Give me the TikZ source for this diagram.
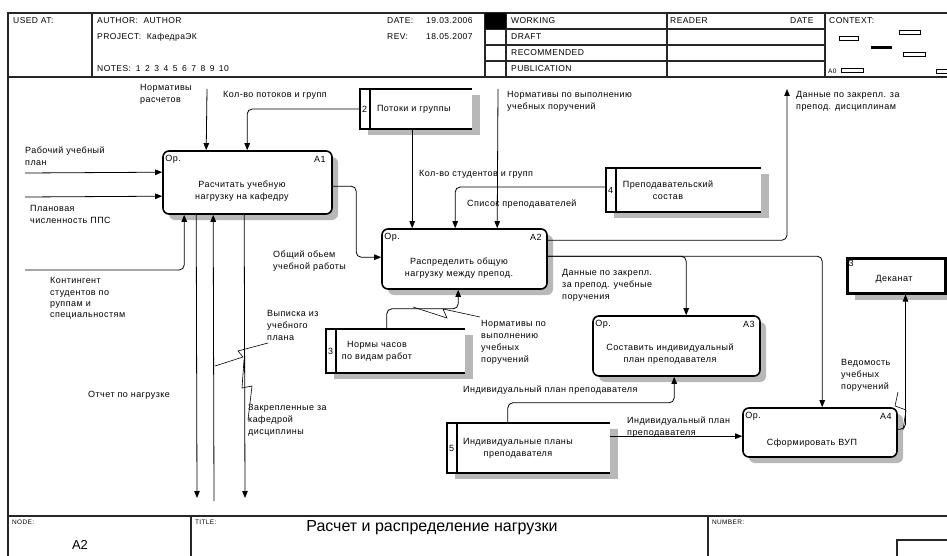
\documentclass[tikz,border=0pt]{standalone}
\usepackage{fontspec}
\setmainfont{Liberation Sans}
\newfontfamily\labfont{Liberation Sans}[LetterSpace=5]
\usetikzlibrary{arrows.meta,shadows}

\begin{document}
\begin{tikzpicture}[x=1pt,y=-1pt,
  font=\labfont\fontsize{9}{12}\selectfont,
  frameline/.style={line width=1.1pt,draw=black!85},
  conn/.style={line width=0.8pt},
  squig/.style={line width=0.6pt},
  arr/.style={conn,-{Triangle[length=7pt,width=5.5pt]}},
  rc/.style={rounded corners=5pt},
  boxshadow/.style={drop shadow={shadow xshift=6pt,shadow yshift=-6pt,fill=black!28,opacity=1}},
  act/.style={draw,line width=1.6pt,rounded corners=6pt,fill=white,inner sep=0pt,boxshadow},
  store/.style={fill=white,inner sep=0pt,drop shadow={shadow xshift=8pt,shadow yshift=-6pt,fill=black!28,opacity=1}},
  storeline/.style={line width=1.6pt},
  lbl/.style={anchor=north west,inner sep=0pt,align=left},
  ctr/.style={inner sep=0pt,align=center},
  lft/.style={anchor=west,inner sep=0pt},
  rgt/.style={anchor=east,inner sep=0pt},
  hd/.style={anchor=west,inner sep=0pt,font=\labfont\fontsize{8.5}{10}\selectfont},
  small/.style={inner sep=0pt,font=\labfont\fontsize{6.5}{8}\selectfont},
  ctx/.style={line width=1pt},
]
\useasboundingbox (0,0) rectangle (947,556);

% ---------- form frame ----------
\draw[frameline] (8,556) -- (8,13) -- (947,13);
\draw[frameline] (8,77) -- (947,77);
\draw[frameline] (8,516) -- (947,516);
\foreach \x in {92,485,506,667,825} \draw[frameline] (\x,13) -- (\x,77);
\foreach \y in {29,45,61} \draw[frameline] (485,\y) -- (825,\y);
\fill (485,13) rectangle (506,29);
\draw[frameline] (191,516) -- (191,556);
\draw[frameline] (708,516) -- (708,556);
\draw[frameline] (897,556) |- (947,540);

% ---------- header ----------
\node[hd] (hUsed) at (13,21) {USED AT:};
\node[hd] (hAuth) at (97,21) {AUTHOR:\ \ AUTHOR};
\node[hd] (hProj) at (97,37) {PROJECT:\ \ КафедраЭК};
\node[hd] (hNotes) at (97,69) {NOTES:\hspace{5pt}1\hspace{4.5pt}2\hspace{4.5pt}3\hspace{4.5pt}4\hspace{4.5pt}5\hspace{4.5pt}6\hspace{4.5pt}7\hspace{4.5pt}8\hspace{4.5pt}9\hspace{4.5pt}10};
\node[hd] (hDate) at (387,21) {DATE:};
\node[hd] (hDateV) at (426,21) {19.03.2006};
\node[hd] (hRev) at (387,37) {REV:};
\node[hd] (hRevV) at (426,37) {18.05.2007};
\node[hd] (hW) at (511,21) {WORKING};
\node[hd] (hD) at (511,37) {DRAFT};
\node[hd] (hR) at (511,53) {RECOMMENDED};
\node[hd] (hP) at (511,69) {PUBLICATION};
\node[hd] (hReader) at (670,21) {READER};
\node[hd] (hRDate) at (790,21) {DATE};
\node[hd] (hCtx) at (829,21) {CONTEXT:};
\node[small,anchor=west] (hA0) at (828,71) {A0};
\draw[ctx] (839,37) rectangle (858,41);
\draw[ctx] (899,31) rectangle (920,35);
\fill (871,46) rectangle (892,49);
\draw[ctx] (903,53) rectangle (925,57);
\draw[ctx] (841,69) rectangle (863,73);
\draw[ctx] (936,70) rectangle (950,74);

% ---------- footer ----------
\node[small,anchor=west] (fNode) at (12,522) {NODE:};
\node[inner sep=0pt,font=\fontsize{13}{15}\selectfont] (fA2) at (80,545) {A2};
\node[small,anchor=west] (fTitle) at (195,522) {TITLE:};
\node[inner sep=0pt,font=\fontsize{16}{18}\selectfont] (fTitleTxt) at (432,528) {Расчет и распределение нагрузки};
\node[small,anchor=west] (fNum) at (712,522) {NUMBER:};

% ---------- activities ----------
\node[act,minimum width=169pt,minimum height=63pt] (A1) at (247.5,182.5) {};
\node[act,minimum width=165pt,minimum height=60pt] (A2) at (464.5,259) {};
\node[act,minimum width=167pt,minimum height=60pt] (A3) at (676.5,346) {};
\node[act,minimum width=154pt,minimum height=49pt] (A4) at (820,432.5) {};

\node[ctr] (A1t) at (242,191) {Расчитать учебную\\нагрузку на кафедру};
\node[ctr] (A2t) at (459,268.5) {Распределить общую\\нагрузку между препод.};
\node[ctr] (A3t) at (670,354) {Составить индивидуальный\\план преподавателя};
\node[ctr] (A4t) at (812,443) {Сформировать ВУП};

\node[lft] (A1o) at ([xshift=3pt,yshift=-9pt]A1.north west) {Ор.};
\node[rgt] (A1n) at ([xshift=-7pt,yshift=-9pt]A1.north east) {A1};
\node[lft] (A2o) at ([xshift=3pt,yshift=-9pt]A2.north west) {Ор.};
\node[rgt] (A2n) at ([xshift=-6pt,yshift=-9pt]A2.north east) {A2};
\node[lft] (A3o) at ([xshift=3pt,yshift=-9pt]A3.north west) {Ор.};
\node[rgt] (A3n) at ([xshift=-6pt,yshift=-9pt]A3.north east) {A3};
\node[lft] (A4o) at ([xshift=3pt,yshift=-9pt]A4.north west) {Ор.};
\node[rgt] (A4n) at ([xshift=-6pt,yshift=-9pt]A4.north east) {A4};

% ---------- data stores ----------
\node[store,minimum width=112pt,minimum height=40pt] (S2) at (416,109) {};
\node[store,minimum width=155pt,minimum height=44pt] (S4) at (683.5,190) {};
\node[store,minimum width=139pt,minimum height=44pt] (S3) at (395.5,351) {};
\node[store,minimum width=163pt,minimum height=50pt] (S5) at (528.5,448) {};
\foreach \s in {S2,S4,S3,S5}{
  \draw[storeline] (\s.north east) -- (\s.north west) -- (\s.south west) -- (\s.south east);
  \draw[storeline] ([xshift=10pt]\s.north west) -- ([xshift=10pt]\s.south west);
}
\node[lft] (S2n) at ([xshift=2pt]S2.west) {2};
\node[lft] (S2t) at ([xshift=17pt]S2.west) {Потоки и группы};
\node[lft] (S4n) at ([xshift=2pt]S4.west) {4};
\node[ctr] (S4t) at (668,190) {Преподавательский\\состав};
\node[lft] (S3n) at ([xshift=2pt]S3.west) {3};
\node[ctr] (S3t) at (377,351.5) {Нормы часов\\по видам работ};
\node[lft] (S5n) at ([xshift=2pt]S5.west) {5};
\node[ctr] (S5t) at (518,448.5) {Индивидуальные планы\\преподавателя};

% ---------- external entity ----------
\node[draw,line width=3pt,fill=white,inner sep=0pt,minimum width=98pt,minimum height=35pt,
      drop shadow={shadow xshift=8pt,shadow yshift=-7pt,fill=black!28,opacity=1}] (Dek) at (896,275.5) {};
\node[lft] (Dekn) at ([xshift=3pt,yshift=-7pt]Dek.north west) {3};
\node[ctr] (Dekt) at (894,279) {Деканат};

% ---------- arrow ends on the boxes ----------
\coordinate (a1c1) at ([xshift=44pt]A1.north west);
\coordinate (a1c2) at ([xshift=85pt]A1.north west);
\coordinate (a1i1) at ([yshift=-22pt]A1.north west);
\coordinate (a1i2) at ([yshift=-46pt]A1.north west);
\coordinate (a1m1) at ([xshift=22pt]A1.south west);
\coordinate (a1b1) at ([xshift=34pt]A1.south west);
\coordinate (a1b2) at ([xshift=51pt]A1.south west);
\coordinate (a1b3) at ([xshift=82pt]A1.south west);
\coordinate (a1o)  at ([yshift=-36pt]A1.north east);
\coordinate (a2i)  at ([yshift=-29pt]A2.north west);
\coordinate (a2c1) at ([xshift=31pt]A2.north west);
\coordinate (a2c2) at ([xshift=74pt]A2.north west);
\coordinate (a2c3) at ([xshift=116pt]A2.north west);
\coordinate (a2o1) at ([yshift=-12pt]A2.north east);
\coordinate (a2o2) at ([yshift=-28pt]A2.north east);
\coordinate (a2m)  at ([xshift=77pt]A2.south west);
\coordinate (a3c)  at ([xshift=94pt]A3.north west);
\coordinate (a3m)  at ([xshift=82pt]A3.south west);
\coordinate (a4c)  at ([xshift=80pt]A4.north west);
\coordinate (a4i)  at ([yshift=-29pt]A4.north west);
\coordinate (a4o)  at ([yshift=-22pt]A4.north east);
\coordinate (dk)   at ([xshift=60pt]Dek.south west);
\coordinate (s3up) at ([xshift=61pt]S3.north west);
\coordinate (s5up) at ([xshift=61pt]S5.north west);

% free ends at the diagram border
\coordinate (f1) at (207,89);
\coordinate (f2) at (25,173);
\coordinate (f3) at (25,197);
\coordinate (f4) at (25,270);
\coordinate (f5) at (498,89);
\coordinate (f6) at (787,89);
\coordinate (b1) at (197,498);
\coordinate (b2) at (214,501);
\coordinate (b3) at (245,498);

% ---------- connectors ----------
\draw[arr] (f1) -- (a1c1);
\draw[arr,rc] (S2.west) -| (a1c2);
\draw[arr] (f2) -- (a1i1);
\draw[arr] (f3) -- (a1i2);
\draw[arr,rc] (f4) -| (a1m1);
\draw[arr] (a1b1) -- (b1);
\draw[arr] (b2) -- (a1b2);
\draw[arr] (a1b3) -- (b3);
\draw[arr,rc] (a1o) -| ([xshift=-25pt]a2i) -- (a2i);
\draw[arr] (S2.south -| a2c1) -- (a2c1);
\draw[arr,rc] ([yshift=3pt]S4.west) -| (a2c2);
\draw[arr] (f5) -- (a2c3);
\draw[arr,rc] (a2o1) -| (f6);
\draw[arr,rc] (a2o2) -| (a3c);
\draw[arr,rc] (a2o2) -| (a4c);
\draw[arr,rc] (s3up) |- ([yshift=-19pt]a2m) -- (a2m);
\draw[arr,rc] (s5up) |- ([yshift=-26pt]a3m) -- (a3m);
\draw[arr] (a4i -| S5.east) -- (a4i);
\draw[arr,rc] (a4o) -| (dk);

% label leaders
\draw[squig] (268,343) -- (238,351) -- (243,357) -- (215,366);
\draw[squig] (244,360) -- (242,388) -- (252,386) -- (248,420);
\draw[squig] (413,307) -- (447,318) -- (443,309) -- (480,317);
\draw[squig] (898,392) -- (895,406) -- (906,410) -- (903,430);

% ---------- arrow labels ----------
\node[lbl] (l1) at (140,84.5) {Нормативы\\расчетов};
\node[lbl] (l2) at (223,91.5) {Кол-во потоков и групп};
\node[lbl] (l3) at (25,146.5) {Рабочий учебный\\план};
\node[lbl] (l4) at (30,205.5) {Плановая\\численность ППС};
\node[lbl,font=\labfont\fontsize{9}{11.2}\selectfont] (l5) at (50,277.5) {Контингент\\студентов по\\руппам и\\специальностям};
\node[lbl] (l6) at (88,391.5) {Отчет по нагрузке};
\node[lbl] (l7) at (267,310.5) {Выписка из\\учебного\\плана};
\node[lbl] (l8) at (248,404.5) {Закрепленные за\\кафедрой\\дисциплины};
\node[lbl] (l9) at (273,250.5) {Общий обьем\\учебной работы};
\node[lbl] (l10) at (419,170.5) {Кол-во студентов и групп};
\node[lbl] (l11) at (507,91.5) {Нормативы по выполнению\\учебных поручений};
\node[lbl] (l12) at (467,199.5) {Список преподавателей};
\node[lbl] (l13) at (796,91.5) {Данные по закрепл. за\\препод. дисциплинам};
\node[lbl] (l14) at (562,269.5) {Данные по закрепл.\\за препод. учебные\\поручения};
\node[lbl] (l15) at (481,320.5) {Нормативы по\\выполнению\\учебных\\поручений};
\node[lbl] (l16) at (463,385.5) {Индивидуальный план преподавателя};
\node[lbl] (l17) at (627,416.5) {Индивидуальный план\\преподавателя};
\node[lbl] (l18) at (841,359.5) {Ведомость\\учебных\\поручений};
\end{tikzpicture}
\end{document}
